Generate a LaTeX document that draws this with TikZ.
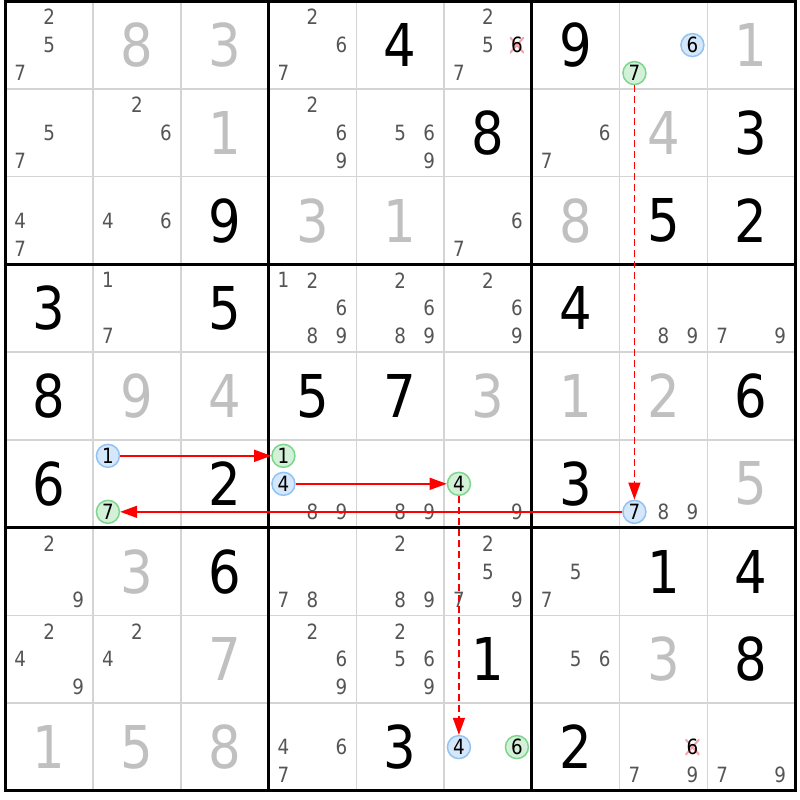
\documentclass[tikz,border=0pt]{standalone}
\usepackage{fontspec}
\setmainfont{DejaVu Sans}[FakeStretch=0.87]
\usetikzlibrary{arrows.meta}
\definecolor{thingrid}{HTML}{D4D4D4}
\definecolor{candgray}{HTML}{555555}
\definecolor{solvedgray}{HTML}{C0C0C0}
\definecolor{bluefill}{HTML}{D5E7FA}
\definecolor{blueline}{HTML}{92C3F2}
\definecolor{greenfill}{HTML}{D3F1D9}
\definecolor{greenline}{HTML}{7ED68D}
\definecolor{xpink}{HTML}{F5A3AB}
\definecolor{arrowred}{HTML}{FF0000}
\begin{document}
\begin{tikzpicture}[x=1pt,y=-1pt,
  given/.style={inner sep=0pt, font=\fontsize{59}{61}\selectfont, text=black},
  solved/.style={given, text=solvedgray},
  cand/.style={inner sep=0pt, font=\fontsize{21}{22}\selectfont, text=candgray},
  bc/.style={cand, text=black, circle, minimum size=23pt, draw=blueline, fill=bluefill, line width=1.5pt},
  gc/.style={bc, draw=greenline, fill=greenfill},
  xc/.style={cand, text=black, minimum width=14pt, minimum height=14pt,
    path picture={\draw[xpink, line width=2pt]
      (path picture bounding box.south west) -- (path picture bounding box.north east)
      (path picture bounding box.north west) -- (path picture bounding box.south east);}},
  thin grid/.style={draw=thingrid, line width=1.5pt},
  thick grid/.style={draw=black, line width=3pt},
  link/.style={draw=arrowred, line width=1.5pt, -{Triangle[length=17pt,width=12pt]}},
  weak/.style={link, dash pattern=on 7pt off 4pt}
]
\fill[white] (0,0) rectangle (800,800);
\useasboundingbox (0,0) rectangle (800,800);
% grid
\foreach \i in {1,2,4,5,7,8} {
  \draw[thin grid] ({5.3+\i*87.75},1.2) -- ({5.3+\i*87.75},790.95);
  \draw[thin grid] (5.3,{1.2+\i*87.75}) -- (795.05,{1.2+\i*87.75});
}
\foreach \i in {3,6} {
  \draw[thick grid] ({5.3+\i*87.75},1.2) -- ({5.3+\i*87.75},790.95);
  \draw[thick grid] (5.3,{1.2+\i*87.75}) -- (795.05,{1.2+\i*87.75});
}
\draw[thick grid] (5.3,1.2) rectangle (795.05,790.95);
% given digits
\foreach \r/\c/\d in {1/5/4,1/7/9,2/6/8,2/9/3,3/3/9,3/8/5,3/9/2,4/1/3,4/3/5,4/7/4,
  5/1/8,5/4/5,5/5/7,5/9/6,6/1/6,6/3/2,6/7/3,7/3/6,7/8/1,7/9/4,8/6/1,8/9/8,9/5/3,9/7/2}
  \node[given] (g\r\c) at ({5.3+(\c-0.5)*87.75},{1.2+(\r-0.5)*87.75}) {\d};
% solved digits
\foreach \r/\c/\d in {1/2/8,1/3/3,1/9/1,2/3/1,2/8/4,3/4/3,3/5/1,3/7/8,
  5/2/9,5/3/4,5/6/3,5/7/1,5/8/2,6/9/5,7/2/3,8/3/7,8/8/3,9/1/1,9/2/5,9/3/8}
  \node[solved] (s\r\c) at ({5.3+(\c-0.5)*87.75},{1.2+(\r-0.5)*87.75}) {\d};
% plain candidates
\foreach \r/\c/\d in {1/1/2,1/1/5,1/1/7, 1/4/2,1/4/6,1/4/7, 1/6/2,1/6/5,1/6/7,
  2/1/5,2/1/7, 2/2/2,2/2/6, 2/4/2,2/4/6,2/4/9, 2/5/5,2/5/6,2/5/9, 2/7/6,2/7/7,
  3/1/4,3/1/7, 3/2/4,3/2/6, 3/6/6,3/6/7,
  4/2/1,4/2/7, 4/4/1,4/4/2,4/4/6,4/4/8,4/4/9, 4/5/2,4/5/6,4/5/8,4/5/9, 4/6/2,4/6/6,4/6/9,
  4/8/8,4/8/9, 4/9/7,4/9/9,
  6/4/8,6/4/9, 6/5/8,6/5/9, 6/6/9, 6/8/8,6/8/9,
  7/1/2,7/1/9, 7/4/7,7/4/8, 7/5/2,7/5/8,7/5/9, 7/6/2,7/6/5,7/6/7,7/6/9, 7/7/5,7/7/7,
  8/1/2,8/1/4,8/1/9, 8/2/2,8/2/4, 8/4/2,8/4/6,8/4/9, 8/5/2,8/5/5,8/5/6,8/5/9, 8/7/5,8/7/6,
  9/4/4,9/4/6,9/4/7, 9/8/7,9/8/9, 9/9/7,9/9/9}
  \node[cand] (n\r\c\d) at ({5.3+(\c-0.5)*87.75+(mod(\d-1,3)-1)*29},{1.2+(\r-0.5)*87.75+(int((\d-0.5)/3)-1)*28}) {\d};
% marked candidates
\foreach \r/\c/\d/\st in {1/8/7/gc,1/8/6/bc,6/2/1/bc,6/2/7/gc,6/4/1/gc,6/4/4/bc,
  6/6/4/gc,6/8/7/bc,9/6/4/bc,9/6/6/gc,1/6/6/xc,9/8/6/xc}
  \node[\st] (n\r\c\d) at ({5.3+(\c-0.5)*87.75+(mod(\d-1,3)-1)*29},{1.2+(\r-0.5)*87.75+(int((\d-0.5)/3)-1)*28}) {\d};
% links
\draw[weak] (n187) -- (n687);
\draw[link] (n687) -- (n627);
\draw[link] (n621) -- (n641);
\draw[link] (n644) -- (n664);
\draw[weak] (n664) -- (n964);
\end{tikzpicture}
\end{document}
